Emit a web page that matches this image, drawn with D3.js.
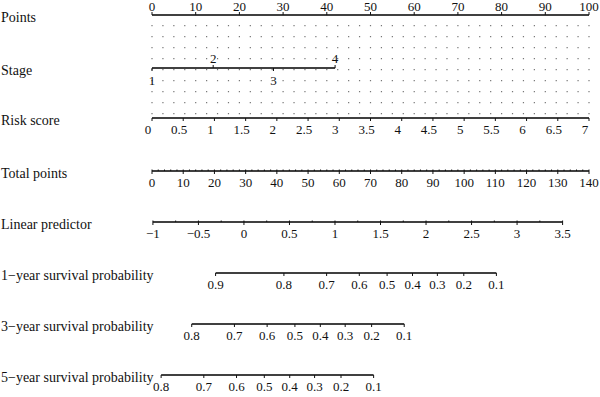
<!DOCTYPE html>
<html>
<head>
<meta charset="utf-8">
<script src="https://cdn.jsdelivr.net/npm/d3@7"></script>
<style>
  body { margin: 0; background: #fff; }
  svg text { font-family: "Liberation Serif", "DejaVu Serif", serif; fill: #111; }
</style>
</head>
<body>
<svg id="chart" width="600" height="397"></svg>
<script>
// nomogram values
var pointTicks = [0, 10, 20, 30, 40, 50, 60, 70, 80, 90, 100];
var stageLevels = ["1", "2", "3", "4"];
var stagePoints = [0, 14, 27.8, 41.9];
var riskTicks = [0, 0.5, 1, 1.5, 2, 2.5, 3, 3.5, 4, 4.5, 5, 5.5, 6, 6.5, 7];
var riskRange = [0, 7];            // risk score 0..7 -> 0..100 points
var totalTicks = [0, 10, 20, 30, 40, 50, 60, 70, 80, 90, 100, 110, 120, 130, 140];
var lpTicks = [-1, -0.5, 0, 0.5, 1, 1.5, 2, 2.5, 3, 3.5];
var lpAtTotal = [-1.01, 3.79];     // linear predictor at 0 and 140 total points
var survTicks1 = [0.9, 0.8, 0.7, 0.6, 0.5, 0.4, 0.3, 0.2, 0.1];
var survTicks3 = [0.8, 0.7, 0.6, 0.5, 0.4, 0.3, 0.2, 0.1];
var survTicks5 = [0.8, 0.7, 0.6, 0.5, 0.4, 0.3, 0.2, 0.1];
var baseSurv = [0.866, 0.673, 0.5745]; // baseline survival at 1, 3, 5 years

var svg = d3.select("#chart");
var x0 = 152, x1 = 589;

var xPoints = d3.scaleLinear().domain([0, 100]).range([x0, x1]);
var xRisk = d3.scaleLinear().domain(riskRange).range([x0, x1]);
var xTotal = d3.scaleLinear().domain([0, 140]).range([x0, x1]);
var xLP = d3.scaleLinear().domain(lpAtTotal).range([x0, x1]);

function survToLP(s, s0) {
    return Math.log(-Math.log(s)) - Math.log(-Math.log(s0));
}

// row labels
var rows = [
    {name: "Points", y: 15},
    {name: "Stage", y: 68},
    {name: "Risk score", y: 118},
    {name: "Total points", y: 171},
    {name: "Linear predictor", y: 222},
    {name: "1\u2212year survival probability", y: 273},
    {name: "3\u2212year survival probability", y: 324},
    {name: "5\u2212year survival probability", y: 375}
];
svg.append("g").selectAll("text")
    .data(rows)
    .enter().append("text")
    .attr("x", 1)
    .attr("y", function(d) { return d.y + 7; })
    .attr("font-size", 14)
    .text(function(d) { return d.name; });

// dotted grid between points and risk score
var gridVals = d3.range(0, 100.01, 2.5);
svg.append("g").selectAll("line")
    .data(gridVals)
    .enter().append("line")
    .attr("x1", function(d) { return xPoints(d); })
    .attr("x2", function(d) { return xPoints(d); })
    .attr("y1", 25).attr("y2", 116)
    .attr("stroke", "#777")
    .attr("stroke-width", 1.2)
    .attr("stroke-dasharray", "1.2,9.8");

function hline(xa, xb, y, w) {
    svg.append("line")
        .attr("x1", xa).attr("x2", xb)
        .attr("y1", y).attr("y2", y)
        .attr("stroke", "#000").attr("stroke-width", w || 1.3);
}

function ticks(vals, scale, y, len) {
    svg.append("g").selectAll("line")
        .data(vals)
        .enter().append("line")
        .attr("x1", function(d) { return scale(d); })
        .attr("x2", function(d) { return scale(d); })
        .attr("y1", y).attr("y2", y + len)
        .attr("stroke", "#111").attr("stroke-width", 1);
}

function labels(vals, scale, y, fmt, dx) {
    svg.append("g").selectAll("text")
        .data(vals)
        .enter().append("text")
        .attr("x", function(d) { return scale(d) + (dx || 0); })
        .attr("y", y)
        .attr("text-anchor", "middle")
        .attr("font-size", 13)
        .text(fmt);
}

var minus = function(d) { return String(d).replace("-", "\u2212"); };

// Points
hline(xPoints(0), xPoints(100), 15, 1.6);
ticks(pointTicks, xPoints, 15, -3);
labels(pointTicks, xPoints, 11, function(d) { return d; });

// Stage
var yS = 68;
hline(xPoints(stagePoints[0]), xPoints(stagePoints[3]), yS);
svg.append("g").selectAll("text")
    .data(stageLevels)
    .enter().append("text")
    .attr("x", function(d, i) { return xPoints(stagePoints[i]); })
    .attr("y", function(d, i) { return i % 2 ? yS - 5 : yS + 17; })
    .attr("text-anchor", "middle")
    .attr("font-size", 13)
    .text(function(d) { return d; });
svg.append("g").selectAll("line")
    .data(stageLevels)
    .enter().append("line")
    .attr("x1", function(d, i) { return xPoints(stagePoints[i]); })
    .attr("x2", function(d, i) { return xPoints(stagePoints[i]); })
    .attr("y1", yS)
    .attr("y2", function(d, i) { return i % 2 ? yS - 3 : yS + 3; })
    .attr("stroke", "#111");

// Risk score
var yR = 118;
hline(xRisk(0), xRisk(7), yR);
ticks(riskTicks, xRisk, yR, 3);
labels(riskTicks, xRisk, yR + 16, function(d) { return d; }, -4);

// Total points
var yT = 171;
hline(xTotal(0), xTotal(140), yT);
ticks(totalTicks, xTotal, yT, 3);
ticks(d3.range(0, 140.01, 2), xTotal, yT, -1.5);
labels(totalTicks, xTotal, yT + 16, function(d) { return d; });

// Linear predictor
var yL = 222;
hline(xLP(-1), xLP(3.5), yL);
ticks(lpTicks, xLP, yL, 3);
ticks(d3.range(-1, 3.51, 0.25), xLP, yL, -1.5);
labels(lpTicks, xLP, yL + 16, minus);

// survival axes
[[survTicks1, 273, baseSurv[0]], [survTicks3, 324, baseSurv[1]], [survTicks5, 375, baseSurv[2]]]
    .forEach(function(a) {
        var vals = a[0], y = a[1], s0 = a[2];
        var sx = function(s) { return xLP(survToLP(s, s0)); };
        hline(sx(vals[0]), sx(vals[vals.length - 1]), y);
        ticks(vals, sx, y, 3);
        labels(vals, sx, y + 16, function(d) { return d; });
    });
</script>
</body>
</html>
